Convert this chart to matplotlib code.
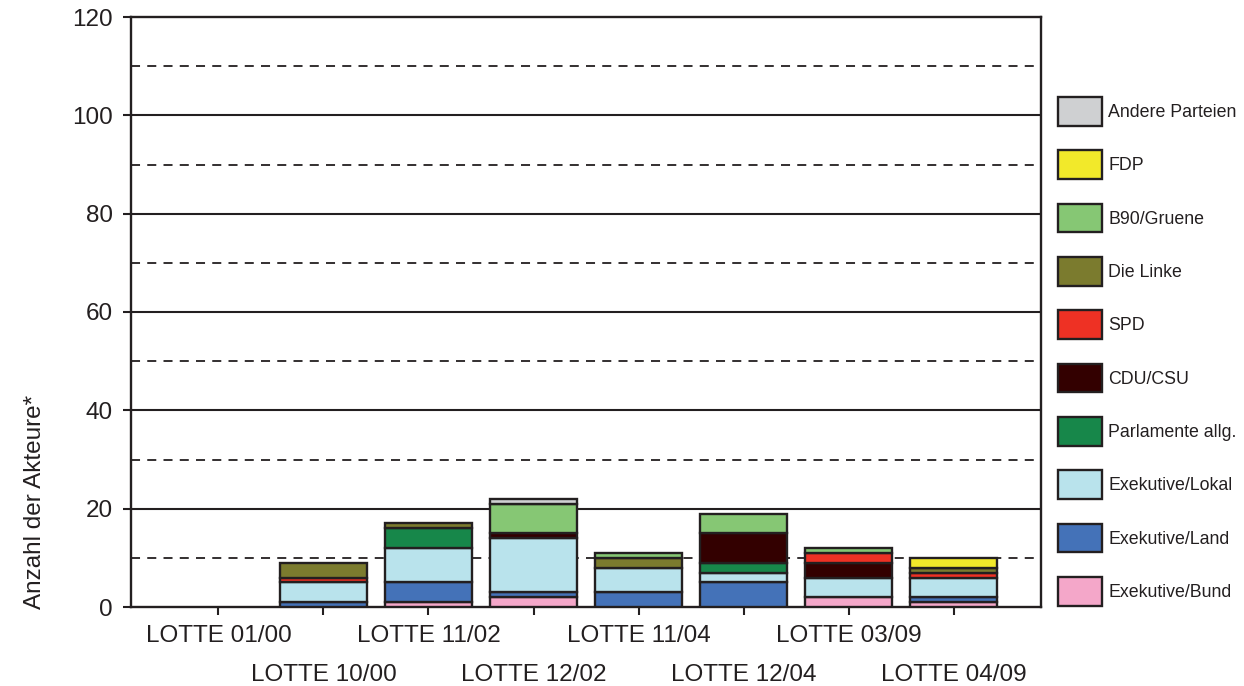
import matplotlib
matplotlib.use("Agg")
import matplotlib.pyplot as plt
from matplotlib.patches import Patch
import numpy as np

plt.rcParams['font.family'] = ['Liberation Sans', 'DejaVu Sans']

categories = ['LOTTE 01/00', 'LOTTE 10/00', 'LOTTE 11/02', 'LOTTE 12/02',
              'LOTTE 11/04', 'LOTTE 12/04', 'LOTTE 03/09', 'LOTTE 04/09']

series_names = ['Exekutive/Bund', 'Exekutive/Land', 'Exekutive/Lokal',
                'Parlamente allg.', 'CDU/CSU', 'SPD', 'Die Linke',
                'B90/Gruene', 'FDP', 'Andere Parteien']

exek_bund = [0, 0, 1, 2, 0, 0, 2, 1]
exek_land = [0, 1, 4, 1, 3, 5, 0, 1]
exek_lokal = [0, 4, 7, 11, 5, 2, 4, 4]
parlamente = [0, 0, 4, 0, 0, 2, 0, 0]
cdu_csu = [0, 0, 0, 1, 0, 6, 3, 0]
spd = [0, 1, 0, 0, 0, 0, 2, 1]
die_linke = [0, 3, 1, 0, 2, 0, 0, 1]
gruene = [0, 0, 0, 6, 1, 4, 1, 0]
fdp = [0, 0, 0, 0, 0, 0, 0, 2]
andere = [0, 0, 0, 1, 0, 0, 0, 0]

series_values = [exek_bund, exek_land, exek_lokal, parlamente, cdu_csu,
                 spd, die_linke, gruene, fdp, andere]
colors = ['#f4a7c9', '#4472b8', '#b9e3ec', '#17874a', '#330000',
          '#ee3124', '#7b7b2e', '#86c774', '#f2e92a', '#cfd0d2']

y_ticks = [0, 20, 40, 60, 80, 100, 120]

EDGE = '#231f20'
W, H = 1244, 686
fig = plt.figure(figsize=(W / 100, H / 100), dpi=100)
ax = fig.add_axes([130.7 / W, 1 - 607 / H, (1041 - 130.7) / W, (607 - 17) / H])

x = np.arange(len(categories))
bottom = np.zeros(len(categories))
handles = []
for name, vals, col in zip(series_names, series_values, colors):
    vals = np.array(vals, dtype=float)
    bars = ax.bar(x, vals, width=0.83, bottom=bottom, color=col,
                  edgecolor=EDGE, linewidth=1.7, label=name, zorder=3)
    for p, v in zip(bars.patches, vals):
        if v == 0:
            p.set_visible(False)
    handles.append(Patch(facecolor=col, edgecolor=EDGE, linewidth=1.7))
    bottom += vals

# grid lines
for v in range(20, 120, 20):
    ax.axhline(v, color=EDGE, lw=1.5, zorder=1)
for v in range(10, 120, 20):
    ax.axhline(v, color=EDGE, lw=1.3, ls=(0, (5, 4)), zorder=1)

ax.set_xlim(-0.836, 7.833)
ax.set_ylim(0, 120)
ax.set_yticks(y_ticks)
ax.set_xticks(x)
ax.set_xticklabels(categories)
for s in ax.spines.values():
    s.set_linewidth(1.7)
    s.set_color(EDGE)
ax.tick_params(axis='both', labelsize=17.5, length=6, width=1.5,
               color=EDGE, labelcolor=EDGE)
ax.tick_params(axis='y', pad=7)
ax.tick_params(axis='x', pad=7.3)
for i, t in enumerate(ax.xaxis.get_major_ticks()):
    if i % 2 == 1:
        t.set_pad(34.8)

fig.text(35 / W, 1 - 502 / H, 'Anzahl der Akteure*', rotation=90,
         ha='center', va='center', fontsize=17.5, color=EDGE)

fs = 12.8
fs_px = fs * 100 / 72
leg = fig.legend(handles[::-1], series_names[::-1], loc='upper left',
                 bbox_to_anchor=(1058 / W, 1 - 97 / H), frameon=False,
                 fontsize=fs, handlelength=44 / fs_px, handleheight=2.1,
                 labelspacing=1.39, handletextpad=0.35,
                 borderpad=0, borderaxespad=0)
for t in leg.get_texts():
    t.set_color(EDGE)

fig.savefig('out.png', dpi=100)
